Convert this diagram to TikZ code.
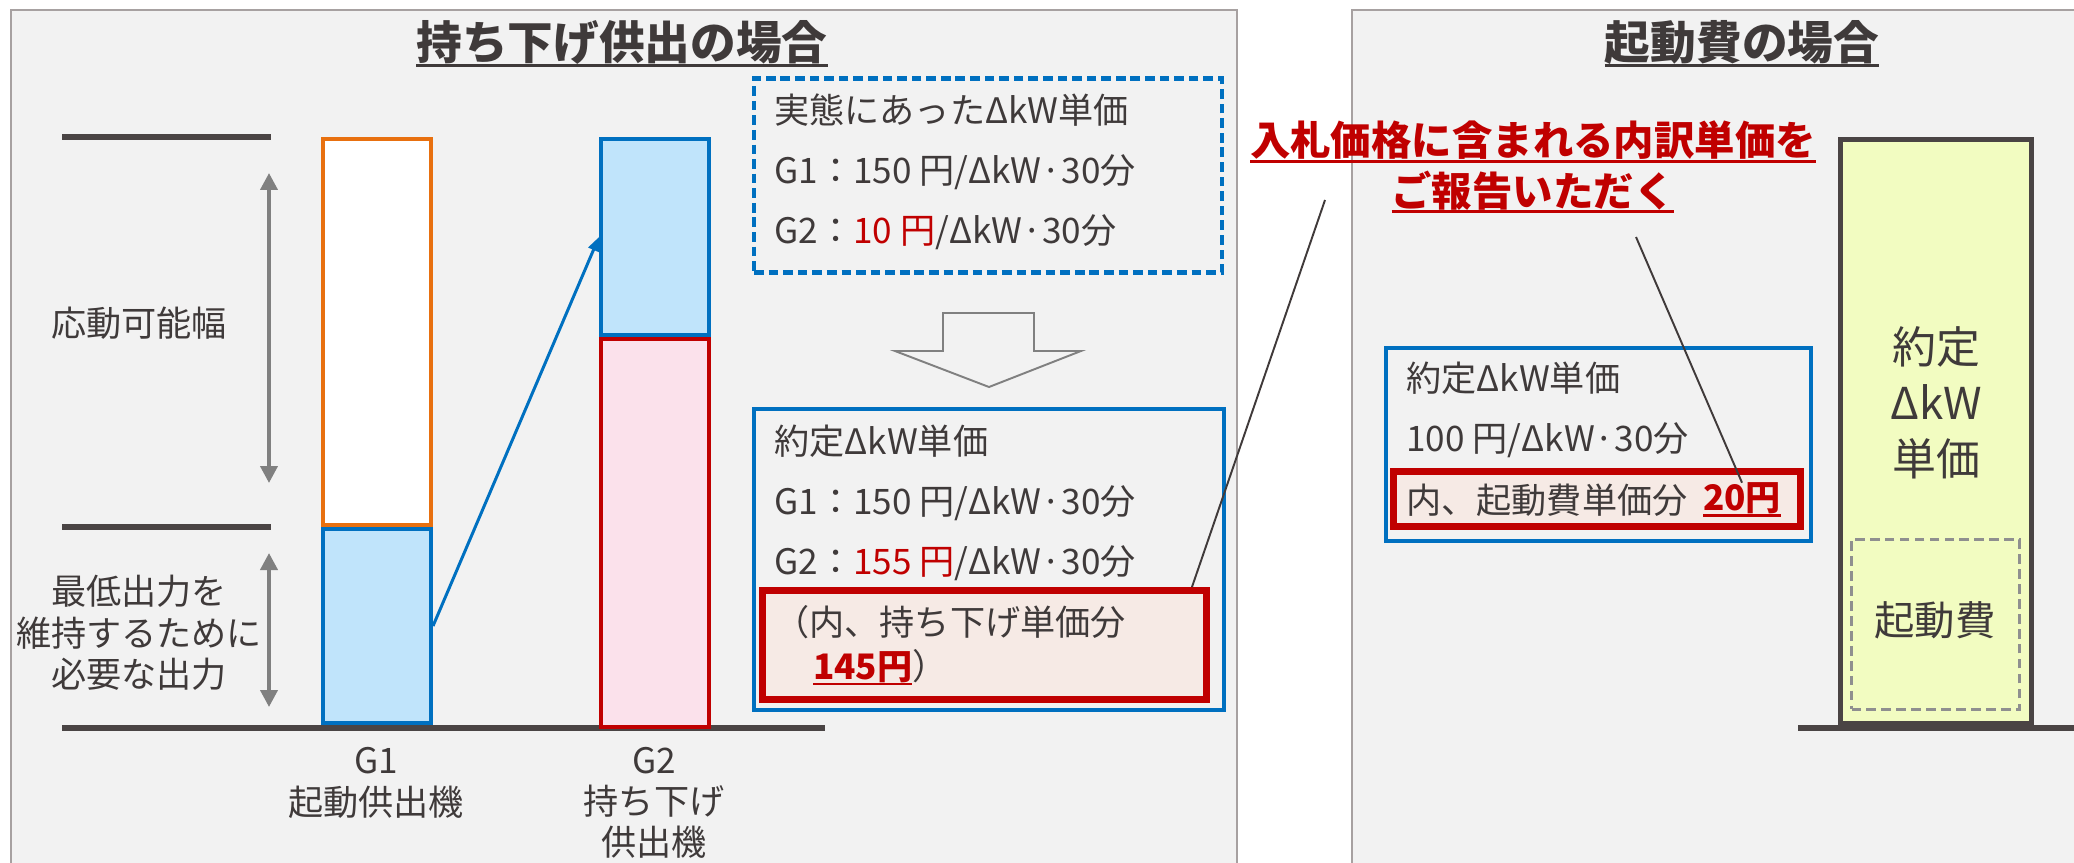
\documentclass[tikz,border=0pt]{standalone}
\usepackage{fontspec}
\setmainfont{Noto Sans CJK JP}
\usepackage{xcolor}
\usepackage{tikz}
\usetikzlibrary{arrows.meta,positioning,calc}

\definecolor{panelbg}{HTML}{F2F2F2}
\definecolor{panelline}{HTML}{A7A1A1}
\definecolor{inkdark}{HTML}{3F3A3A}
\definecolor{levelgray}{HTML}{4A4444}
\definecolor{g1orange}{HTML}{E8700F}
\definecolor{kwblue}{HTML}{0070C0}
\definecolor{kwbluefill}{HTML}{C0E4FB}
\definecolor{g2pink}{HTML}{FBE1EB}
\definecolor{accentred}{HTML}{C00000}
\definecolor{breakfill}{HTML}{F6EAE5}
\definecolor{yellowfill}{HTML}{F2FCC1}
\definecolor{spangray}{HTML}{808080}
\definecolor{dashgray}{HTML}{8F8F8F}
\definecolor{calloutgray}{HTML}{403A3A}

\newcommand{\markline}[1]{\leavevmode\setbox0=\hbox{#1}\rlap{\rule[-0.17em]{\wd0}{0.07em}}\box0}

\begin{document}
\begin{tikzpicture}[
  x=0.02cm, y=-0.02cm,
  panel/.style={fill=panelbg, draw=panelline, line width=1.2pt},
  heading/.style={font=\fontsize{26}{30}\selectfont\bfseries, text=inkdark, inner sep=0pt},
  note/.style={font=\fontsize{20}{23.5}\selectfont, text=inkdark, align=center, inner sep=0pt},
  rows/.style={font=\fontsize{20}{34}\selectfont, text=inkdark, align=left, anchor=west, inner sep=0pt},
  levelbar/.style={draw=levelgray, line width=3.4pt},
  spanarrow/.style={{Triangle[length=0.34cm,width=0.34cm]}-{Triangle[length=0.34cm,width=0.34cm]}, draw=spangray, line width=2.2pt},
  bar/.style={rectangle, inner sep=0pt, line width=2.3pt, minimum width=2.16cm},
  pricebox/.style={rectangle, draw=kwblue, line width=2.3pt, inner sep=0pt},
  breakbox/.style={rectangle, draw=accentred, fill=breakfill, line width=4pt, inner sep=0pt},
  callout/.style={draw=calloutgray, line width=1.1pt}
]
\useasboundingbox (0,0) rectangle (2074,862);

% Panels
\path[panel] (11,10) rectangle (1237,890);
\path[panel] (1352,10) rectangle (2100,890);
\node[heading] (lefttitle) at (622,44) {\markline{持ち下げ供出の場合}};
\node[heading] (righttitle) at (1742,44) {\markline{起動費の場合}};

% Output levels
\draw[levelbar] (62,137) -- (271,137);
\draw[levelbar] (62,527) -- (271,527);
\draw[levelbar] (62,728) -- (825,728);
\coordinate (swingtop) at (269,173);
\coordinate (swingbot) at (269,483);
\coordinate (mintop) at (269,553);
\coordinate (minbot) at (269,707);
\draw[spanarrow] (swingtop) -- (swingbot);
\draw[spanarrow] (mintop) -- (minbot);
\node[note] (swing) at (139,323) {応動可能幅};
\node[note] (minout) at (139,633) {最低出力を\\維持するために\\必要な出力};

% Units
\node[bar, draw=g1orange, fill=white, minimum height=7.72cm] (g1up) at (377,332) {};
\node[bar, draw=kwblue, fill=kwbluefill, minimum height=3.88cm] (g1low) at (377,626) {};
\node[bar, draw=accentred, fill=g2pink, minimum height=7.76cm] (g2low) at (655,533) {};
\node[bar, draw=kwblue, fill=kwbluefill, minimum height=3.92cm] (g2up) at (655,237) {};
\draw[-{Triangle[length=0.28cm,width=0.22cm]}, kwblue, line width=1.7pt] (g1low.east) -- (g2up.west);
\node[note] (g1name) at (376,783) {G1\\起動供出機};
\node[note] (g2name) at (654,803) {G2\\持ち下げ\\供出機};

% Actual price
\node[pricebox, dash pattern=on 5.5pt off 2.8pt, minimum width=9.36cm, minimum height=3.88cm] (actual) at (988,175.5) {};
\node[rows] (actualtxt) at (774,172) {実態にあったΔkW単価\\G1：150 円/ΔkW·30分\\G2：{\color{accentred}10 円}/ΔkW·30分};

% Down arrow
\draw[draw=spangray, line width=1.1pt] (943,313) -- (1034,313) -- (1034,351) -- (1081,351) -- (989,387) -- (895,351) -- (943,351) -- cycle;

% Agreed price
\node[pricebox, minimum width=9.4cm, minimum height=6.02cm] (agreed) at (989,559.5) {};
\node[rows] (agreedtxt) at (774,503) {約定ΔkW単価\\G1：150 円/ΔkW·30分\\G2：{\color{accentred}155 円}/ΔkW·30分};
\node[breakbox, minimum width=8.88cm, minimum height=2.18cm] (holdbreak) at (984.5,645) {};
\node[rows, font=\fontsize{20}{25}\selectfont] (holdtxt) at (774,645) {（内、持ち下げ単価分\\\hspace*{1.1em}{\color{accentred}\bfseries\markline{145円}}）};

% Request
\node[heading, font=\fontsize{23}{28.5}\selectfont\bfseries, text=accentred, align=center] (request) at (1533,167) {\markline{入札価格に含まれる内訳単価を}\\\markline{ご報告いただく}};
\coordinate (reqleft) at (1325,200);
\coordinate (reqright) at (1636,237);
\draw[callout] ([xshift=-0.36cm]holdbreak.north east) -- (reqleft);

% Start-up cost
\node[pricebox, minimum width=8.5cm, minimum height=3.86cm] (startprice) at (1598.5,444.5) {};
\node[rows] (starttxt) at (1406,410) {約定ΔkW単価\\100 円/ΔkW·30分};
\node[breakbox, minimum width=8.14cm, minimum height=1.1cm] (startbreak) at (1597,499) {};
\node[rows] (feetxt) at (1406,500) {内、起動費単価分};
\node[rows, anchor=center, text=accentred, font=\fontsize{20}{24}\selectfont\bfseries] (feeamt) at (1742,500) {\markline{20円}};
\draw[callout] (reqright) -- (feeamt.north);

\node[rectangle, draw=levelgray, fill=yellowfill, line width=2.8pt, minimum width=3.82cm, minimum height=11.68cm] (contract) at (1936,431.5) {};
\node[note, font=\fontsize{25}{32}\selectfont] (contracttxt) at (1936,403) {約定\\ΔkW\\単価};
\node[rectangle, draw=dashgray, dash pattern=on 5.5pt off 3pt, line width=1.7pt, minimum width=3.36cm, minimum height=3.4cm] (startcost) at (1935.5,624.5) {};
\node[note, font=\fontsize{23}{28}\selectfont] (startcosttxt) at (1935,620) {起動費};
\draw[levelbar] (1798,728) -- (2074,728);

\end{tikzpicture}
\end{document}
